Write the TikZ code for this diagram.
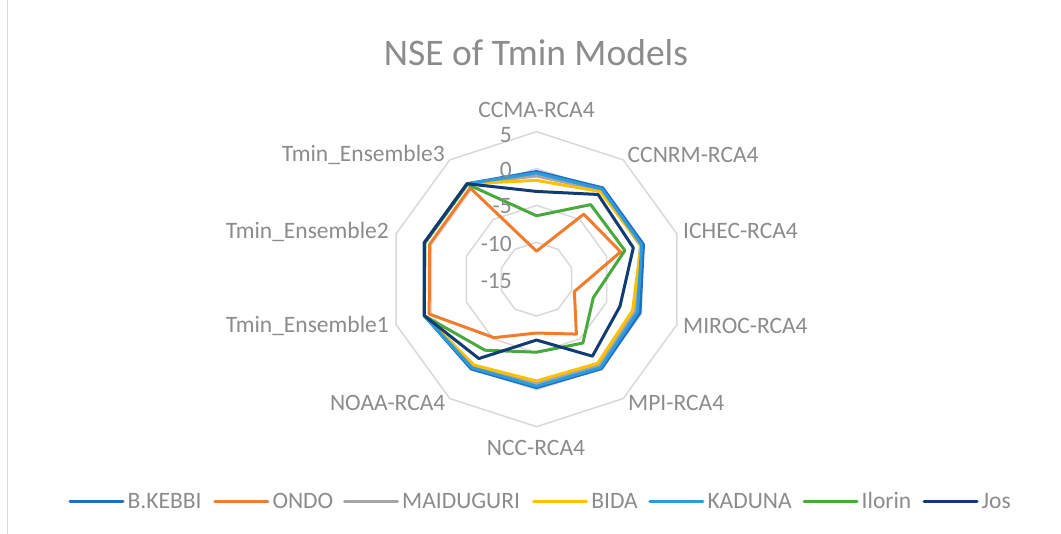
\documentclass[tikz,border=0pt]{standalone}
\usepackage{fontspec}
\setmainfont{Carlito}

\definecolor{txt}{RGB}{140,140,140}
\definecolor{gridc}{RGB}{217,217,217}
\definecolor{cKebbi}{RGB}{31,111,200}
\definecolor{cOndo}{RGB}{240,125,45}
\definecolor{cMaid}{RGB}{165,165,165}
\definecolor{cBida}{RGB}{255,192,0}
\definecolor{cKaduna}{RGB}{46,155,219}
\definecolor{cIlorin}{RGB}{72,170,60}
\definecolor{cJos}{RGB}{16,60,115}

% one closed line of a radar series: name, colour, ten values (axis runs -15 .. 5)
\newcommand\radarseries[3]{%
  \foreach \v [count=\k from 0] in {#3}{%
    \coordinate (#1-\k) at (36*\k-90:{(\v+15)*7.375});}%
  \draw[series,#2] (#1-0) -- (#1-1) -- (#1-2) -- (#1-3) -- (#1-4) -- (#1-5)
    -- (#1-6) -- (#1-7) -- (#1-8) -- (#1-9) -- cycle;}

\begin{document}
\begin{tikzpicture}[x=1pt,y=-1pt,
  ring/.style={draw=gridc,line width=1.5pt},
  series/.style={line width=3pt,line join=round},
  lbl/.style={text=txt,font=\fontsize{23.5}{28}\selectfont,inner sep=0pt},
  legendline/.style={line width=3pt,line cap=round}]

\useasboundingbox (0,0) rectangle (1061,534);
\fill[white] (0,0) rectangle (1061,534);
\draw[gridc,line width=1.2pt] (7.5,0) -- (7.5,534);

% title
\node[lbl,font=\fontsize{37.5}{44}\selectfont,anchor=base] (title) at (536,65.3) {NSE of Tmin Models};

\begin{scope}[shift={(536.5,279.2)}]
  % grid rings at 5, 0, -5, -10
  \foreach \lv in {5,0,-5,-10}{
    \pgfmathsetmacro\rr{(\lv+15)*7.375}
    \draw[ring] (-90:\rr) \foreach \k in {1,...,9}{ -- (36*\k-90:\rr)} -- cycle;
  }
  % series
  \radarseries{kebbi}{cKebbi}{-0.4,0.3,0.25,-0.25,0.0,-0.3,0.05,1.0,1.0,1.0}
  \radarseries{ondo}{cOndo}{-11.2,-4.1,-3.0,-9.6,-5.8,-7.7,-5.2,0.3,0.25,0.3}
  \radarseries{maid}{cMaid}{-1.0,-0.1,-0.2,-0.9,-0.6,-0.9,-0.4,1.0,1.0,1.0}
  \radarseries{bida}{cBida}{-1.6,-0.3,-0.1,-1.3,-0.9,-1.2,-0.6,1.0,1.0,1.0}
  \radarseries{kaduna}{cKaduna}{-0.6,0.1,0.0,-0.6,-0.2,-0.5,-0.15,1.0,1.0,1.0}
  \radarseries{ilorin}{cIlorin}{-6.4,-2.5,-2.4,-6.9,-4.3,-5.1,-3.1,1.0,0.9,0.9}
  \radarseries{jos}{cJos}{-3.1,-0.8,-1.2,-3.1,-2.1,-6.75,-1.7,1.0,1.0,1.0}
\end{scope}

% value axis labels
\node[lbl,anchor=base east] (t5)  at (512,142.5) {5};
\node[lbl,anchor=base east] (t0)  at (512,177.5) {0};
\node[lbl,anchor=base east] (tm5) at (512,214) {-5};
\node[lbl,anchor=base east] (tm10) at (512,251.5) {-10};
\node[lbl,anchor=base east] (tm15) at (512,289) {-15};

% category labels
\node[lbl,anchor=base] (a0) at (536.5,117.5) {CCMA-RCA4};
\node[lbl,anchor=base west] (a1) at (627.5,162.5) {CCNRM-RCA4};
\node[lbl,anchor=base west] (a2) at (683,238.5) {ICHEC-RCA4};
\node[lbl,anchor=base west] (a3) at (683,334) {MIROC-RCA4};
\node[lbl,anchor=base west] (a4) at (628,411) {MPI-RCA4};
\node[lbl,anchor=base] (a5) at (536,456) {NCC-RCA4};
\node[lbl,anchor=base east] (a6) at (445.5,410.5) {NOAA-RCA4};
\node[lbl,anchor=base east] (a7) at (389,333) {Tmin\_Ensemble1};
\node[lbl,anchor=base east] (a8) at (389,238.5) {Tmin\_Ensemble2};
\node[lbl,anchor=base east] (a9) at (445,162) {Tmin\_Ensemble3};

% legend
\foreach \x/\c/\t/\n in {70/cKebbi/B.KEBBI/kebbi, 214.8/cOndo/ONDO/ondo,
    344.5/cMaid/MAIDUGURI/maid, 533.6/cBida/BIDA/bida, 649.8/cKaduna/KADUNA/kaduna,
    804/cIlorin/Ilorin/ilorin, 924/cJos/Jos/jos}{
  \coordinate (leg-\n-a) at (\x,501.5);
  \coordinate (leg-\n-b) at (\x+53,501.5);
  \draw[legendline,\c] (leg-\n-a) -- (leg-\n-b);
  \node[lbl,anchor=base west] (legtext-\n) at (\x+57.5,508.5) {\t};
}
\end{tikzpicture}
\end{document}
